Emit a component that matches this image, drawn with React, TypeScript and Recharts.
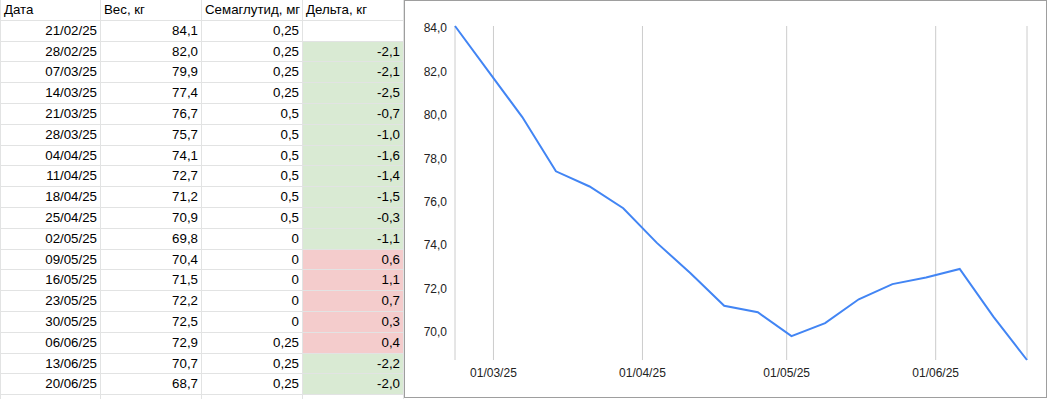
import React from 'react';
import { LineChart, Line, XAxis, YAxis, CartesianGrid } from 'recharts';

const headers = ['Дата', 'Вес, кг', 'Семаглутид, мг', 'Дельта, кг'];
const dates = ['21/02/25', '28/02/25', '07/03/25', '14/03/25', '21/03/25', '28/03/25', '04/04/25', '11/04/25', '18/04/25', '25/04/25', '02/05/25', '09/05/25', '16/05/25', '23/05/25', '30/05/25', '06/06/25', '13/06/25', '20/06/25'];
const weights = [84.1, 82.0, 79.9, 77.4, 76.7, 75.7, 74.1, 72.7, 71.2, 70.9, 69.8, 70.4, 71.5, 72.2, 72.5, 72.9, 70.7, 68.7];
const semaglutide = [0.25, 0.25, 0.25, 0.25, 0.5, 0.5, 0.5, 0.5, 0.5, 0.5, 0, 0, 0, 0, 0, 0.25, 0.25, 0.25];
const deltas: (number | null)[] = [null, -2.1, -2.1, -2.5, -0.7, -1.0, -1.6, -1.4, -1.5, -0.3, -1.1, 0.6, 1.1, 0.7, 0.3, 0.4, -2.2, -2.0];
const xTickLabels = ['01/03/25', '01/04/25', '01/05/25', '01/06/25'];
const yTicks = [70, 72, 74, 76, 78, 80, 82, 84];

const parse = (s: string) => {
  const [d, m, y] = s.split('/').map(Number);
  return Date.UTC(2000 + y, m - 1, d);
};
const pad2 = (n: number) => (n < 10 ? '0' + n : '' + n);
const fmtDate = (t: number) => {
  const d = new Date(t);
  return `${pad2(d.getUTCDate())}/${pad2(d.getUTCMonth() + 1)}/${pad2(d.getUTCFullYear() % 100)}`;
};
const comma = (s: string) => s.replace('.', ',');

const chartData = dates.map((d, i) => ({ t: parse(d), w: weights[i] }));
const xTicks = xTickLabels.map(parse);

const ROW_H = 20.8;
const colX = [0, 101, 202, 303];
const colW = [101, 101, 101, 101];
const GRID = '#e2e3e3';

function Cell({ col, row, text, align, bg }: { col: number; row: number; text: string; align: 'left' | 'right'; bg?: string }) {
  return (
    <div
      style={{
        position: 'absolute',
        left: colX[col],
        top: row * ROW_H,
        width: colW[col],
        height: ROW_H,
        boxSizing: 'border-box',
        borderRight: `1px solid ${GRID}`,
        borderBottom: `1px solid ${GRID}`,
        borderLeft: col === 0 ? `1px solid ${GRID}` : undefined,
        background: bg || '#fff',
        fontSize: 13.3,
        lineHeight: `${ROW_H - 1}px`,
        textAlign: align,
        paddingLeft: 3,
        paddingRight: 3,
        color: '#000',
        whiteSpace: 'nowrap',
        overflow: 'hidden',
      }}
    >
      {text}
    </div>
  );
}

export default function App() {
  const cells: React.ReactNode[] = [];
  headers.forEach((h, c) => cells.push(<Cell key={'h' + c} col={c} row={0} text={h} align="left" />));
  dates.forEach((d, i) => {
    const r = i + 1;
    cells.push(<Cell key={'d' + i} col={0} row={r} text={d} align="right" />);
    cells.push(<Cell key={'w' + i} col={1} row={r} text={comma(weights[i].toFixed(1))} align="right" />);
    cells.push(<Cell key={'s' + i} col={2} row={r} text={comma(String(semaglutide[i]))} align="right" />);
    const dv = deltas[i];
    const bg = dv === null ? undefined : dv < 0 ? '#d9ead3' : '#f4cccc';
    cells.push(<Cell key={'x' + i} col={3} row={r} text={dv === null ? '' : comma(dv.toFixed(1))} align="right" bg={bg} />);
  });
  cells.push(<Cell key="blank0" col={0} row={19} text="" align="right" />);
  cells.push(<Cell key="blank1" col={1} row={19} text="" align="right" />);
  cells.push(<Cell key="blank2" col={2} row={19} text="" align="right" />);
  cells.push(<Cell key="blank3" col={3} row={19} text="" align="right" />);

  return (
    <div
      style={{
        position: 'absolute',
        left: 0,
        top: 0,
        width: 1048,
        height: 399,
        overflow: 'hidden',
        background: '#fff',
        fontFamily: 'Arial, "Liberation Sans", sans-serif',
      }}
    >
      {cells}
      <div
        style={{
          position: 'absolute',
          left: 404,
          top: 0,
          width: 643,
          height: 398,
          boxSizing: 'border-box',
          border: '1px solid #9e9e9e',
          background: '#fff',
        }}
      >
        <LineChart width={641} height={396} data={chartData} margin={{ top: 25, right: 19, bottom: 0, left: 0 }}>
          <CartesianGrid horizontal={false} stroke="#cccccc" />
          <XAxis
            dataKey="t"
            type="number"
            scale="time"
            domain={['dataMin', 'dataMax']}
            ticks={xTicks}
            tickFormatter={fmtDate}
            axisLine={false}
            tickLine={false}
            height={37}
            tick={{ fontSize: 12, fill: '#222', fontFamily: 'Arial, "Liberation Sans", sans-serif' }}
            interval={0}
          />
          <YAxis
            type="number"
            domain={['dataMin', 'dataMax']}
            ticks={yTicks}
            tickFormatter={(v: number) => comma(v.toFixed(1))}
            axisLine={false}
            tickLine={false}
            width={50}
            tick={{ fontSize: 12, fill: '#222', fontFamily: 'Arial, "Liberation Sans", sans-serif' }}
            interval={0}
          />
          <Line type="linear" dataKey="w" stroke="#4285f4" strokeWidth={2} dot={false} isAnimationActive={false} />
        </LineChart>
      </div>
    </div>
  );
}
